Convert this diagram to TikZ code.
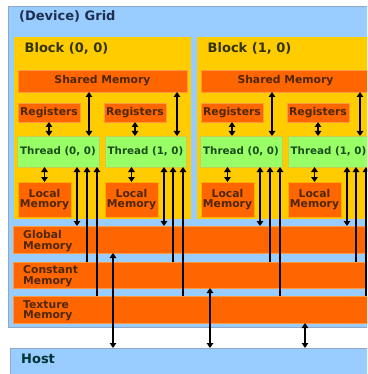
\documentclass[tikz,border=0pt]{standalone}
\usepackage{fontspec}
\setmainfont{DejaVu Sans}
\usetikzlibrary{arrows.meta}
\definecolor{lblue}{HTML}{99CCFF}
\definecolor{lblueline}{HTML}{8FA8C8}
\definecolor{blockyel}{HTML}{FFCC00}
\definecolor{memor}{HTML}{FF6600}
\definecolor{memline}{HTML}{FF9940}
\definecolor{thgreen}{HTML}{99FF66}
\definecolor{thline}{HTML}{CCCC55}
\definecolor{gridtxt}{HTML}{1F2F4F}
\definecolor{blocktxt}{HTML}{333300}
\definecolor{memtxt}{HTML}{4F2700}
\definecolor{thtxt}{HTML}{1A4D1A}
\definecolor{hosttxt}{HTML}{003333}
\newcommand\myfbig{\fontsize{13}{15}\selectfont\bfseries}
\newcommand\myfmem{\fontsize{10.8}{10.5}\selectfont\bfseries}
\newcommand\myfth{\fontsize{10.3}{12}\selectfont\bfseries}
\begin{document}
\begin{tikzpicture}[x=1pt,y=-1pt,
  box/.style={anchor=north west, inner sep=0pt, outer sep=0pt},
  gridbox/.style={box, fill=lblue, draw=lblueline, line width=0.6pt},
  blockbox/.style={box, fill=blockyel},
  membox/.style={box, fill=memor, draw=memline, line width=0.6pt, text=memtxt, font=\myfmem, align=center},
  locbox/.style={membox, draw=blockyel!70!memor, line width=0.9pt},
  thbox/.style={box, fill=thgreen, draw=thline, line width=0.6pt, text=thtxt, font=\myfth},
  biglbl/.style={anchor=west, inner sep=0pt, font=\myfbig},
  memlbl/.style={anchor=west, inner sep=0pt, font=\myfmem, text=memtxt, align=left},
  arr/.style={line width=1.8pt},
  >={Triangle[width=6.5pt,length=5pt]}
]
\useasboundingbox (0,0) rectangle (367,374);
\clip (0,0) rectangle (367,374);
\fill[white] (0,0) rectangle (367,374);

% grid
\node[gridbox, minimum width=379pt, minimum height=321pt] (grid) at (8,6) {};
\node[biglbl, text=gridtxt] (gridlbl) at (19,16.5) {(Device) Grid};

% global / constant / texture
\node[membox, minimum width=370pt, minimum height=27pt] (glob) at (13,226) {};
\node[membox, minimum width=370pt, minimum height=26pt] (const) at (13,262) {};
\node[membox, minimum width=370pt, minimum height=27pt] (tex) at (13,296) {};
\node[memlbl] (globlbl) at (23,241) {Global\\Memory};
\node[memlbl] (constlbl) at (23,276) {Constant\\Memory};
\node[memlbl] (texlbl) at (23,310.5) {Texture\\Memory};

% host
\node[gridbox, minimum width=370pt, minimum height=40pt] (host) at (10,348) {};
\node[biglbl, text=hosttxt] (hostlbl) at (21,358.5) {Host};

% blocks
\foreach \b/\dx in {0/0,1/183}{
  \node[blockbox, minimum width=177pt, minimum height=182pt] (b\b) at (14+\dx,37) {};
  \pgfmathtruncatemacro{\bi}{\b}
  \node[biglbl, text=blocktxt] (b\b lbl) at (24.5+\dx,48.5) {Block (\bi, 0)};
  \node[membox, minimum width=169pt, minimum height=22pt] (sh\b) at (18+\dx,70) {Shared Memory};
  \node[membox, minimum width=62pt, minimum height=19pt] (r\b0) at (18+\dx,103) {Registers};
  \node[membox, minimum width=62pt, minimum height=19pt] (r\b1) at (104+\dx,103) {Registers};
  \node[thbox, minimum width=82pt, minimum height=31pt] (t\b0) at (17+\dx,136) {Thread (0, 0)};
  \node[thbox, minimum width=81pt, minimum height=31pt] (t\b1) at (105+\dx,136) {Thread (1, 0)};
  \node[locbox, minimum width=53pt, minimum height=35pt] (l\b0) at (18+\dx,182) {Local\\Memory};
  \node[locbox, minimum width=53pt, minimum height=35pt] (l\b1) at (105+\dx,182) {Local\\Memory};
  % registers <-> thread
  \draw[arr,<->] (r\b0.south) -- (r\b0.south |- t\b0.north);
  \draw[arr,<->] (r\b1.south) -- (r\b1.south |- t\b1.north);
  % thread <-> local
  \draw[arr,<->] (l\b0.north |- t\b0.south) -- (l\b0.north);
  \draw[arr,<->] (l\b1.north |- t\b1.south) -- (l\b1.north);
  % shared <-> thread
  \draw[arr,<->] (sh\b.south -| 89+\dx,0) -- (t\b0.north -| 89+\dx,0);
  \draw[arr,<->] (sh\b.south -| 177+\dx,0) -- (t\b1.north -| 177+\dx,0);
  % thread 0 -> global / constant / texture
  \draw[arr,<->] (t\b0.south -| 77+\dx,0) -- (glob.north -| 77+\dx,0);
  \draw[arr,<-] (t\b0.south -| 87+\dx,0) -- (const.north -| 87+\dx,0);
  \draw[arr,<-] (t\b0.south -| 97+\dx,0) -- (tex.north -| 97+\dx,0);
  % thread 1
  \draw[arr,<->] (t\b1.south -| 164+\dx,0) -- (glob.north -| 164+\dx,0);
  \draw[arr,<-] (t\b1.south -| 173+\dx,0) -- (const.north -| 173+\dx,0);
  \draw[arr,<-] (t\b1.south -| 183+\dx,0) -- (tex.north -| 183+\dx,0);
}

% host arrows
\draw[arr,<->] (glob.south -| 113,0) -- (host.north -| 113,0);
\draw[arr,<->] (const.south -| 210,0) -- (host.north -| 210,0);
\draw[arr,<->] (tex.south -| 305,0) -- (host.north -| 305,0);
\end{tikzpicture}
\end{document}
